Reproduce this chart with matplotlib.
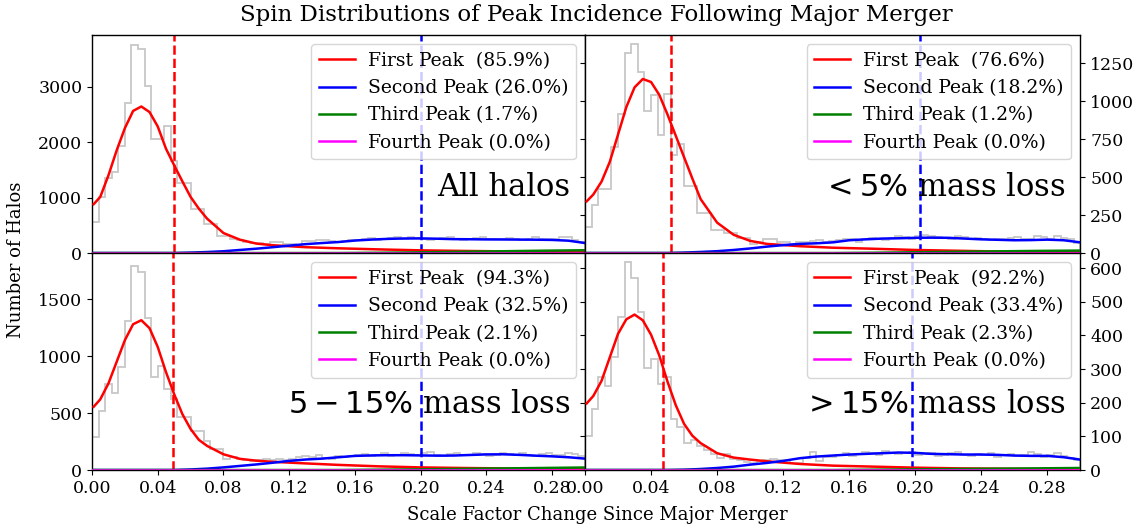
import numpy as np
import matplotlib
matplotlib.use("Agg")
import matplotlib.pyplot as plt

plt.rcParams["font.family"] = "serif"
plt.rcParams["font.serif"] = ["DejaVu Serif"]
plt.rcParams["mathtext.fontset"] = "dejavusans"

# ---- histogram of all peaks (bins of width 0.004 over 0 - 0.3) ----
bin_edges = np.round(np.arange(0, 0.3001, 0.004), 4)

hist_all = [560, 1010, 1360, 1460, 1930, 2710, 3740, 3680, 3010, 2050, 2050, 2290, 1660, 1270, 1270,
            790, 790, 520, 520, 300, 300, 250, 240, 190, 180, 175, 170, 195, 200, 170,
            165, 150, 215, 225, 240, 230, 210, 200, 215, 240, 230, 250, 265, 240, 255,
            270, 280, 260, 285, 270, 255, 240, 245, 270, 290, 250, 240, 255, 275, 280,
            260, 245, 250, 270, 255, 235, 250, 285, 260, 245, 250, 280, 290, 240, 200]
hist_lt5 = [172, 316, 422, 422, 699, 913, 1318, 1373, 1192, 936, 1037, 776, 1048, 644, 714,
            440, 440, 261, 261, 150, 150, 135, 135, 102, 102, 60, 70, 95, 90, 75,
            70, 60, 75, 70, 80, 85, 75, 80, 85, 90, 95, 70, 90, 100, 95,
            85, 100, 110, 105, 90, 115, 120, 110, 105, 100, 95, 110, 105, 95, 100,
            90, 85, 95, 90, 100, 105, 95, 90, 110, 105, 95, 115, 100, 90, 65]
hist_5to15 = [288, 519, 755, 680, 908, 1311, 1793, 1735, 1331, 813, 914, 712, 625, 467, 467,
              346, 346, 259, 187, 187, 101, 110, 95, 90, 80, 85, 95, 90, 100, 85,
              95, 110, 120, 115, 130, 105, 100, 120, 110, 125, 130, 140, 120, 130, 145,
              125, 135, 150, 140, 130, 145, 155, 135, 125, 140, 150, 135, 130, 145, 140,
              125, 135, 150, 140, 130, 145, 135, 125, 140, 150, 135, 130, 145, 140, 120]
hist_gt15 = [101, 181, 277, 251, 336, 456, 619, 572, 471, 303, 330, 256, 276, 151, 129,
             80, 88, 70, 60, 48, 35, 48, 32, 30, 25, 20, 28, 30, 32, 30,
             30, 20, 22, 35, 55, 28, 40, 38, 45, 50, 42, 48, 55, 50, 45,
             58, 52, 48, 50, 55, 45, 48, 52, 42, 45, 50, 55, 45, 42, 48,
             45, 50, 40, 45, 48, 42, 45, 55, 48, 40, 45, 50, 42, 35, 30]

# ---- smoothed distributions of each peak ----
first_x = [0.001, 0.005, 0.01, 0.015, 0.02, 0.025, 0.03, 0.035, 0.04, 0.045, 0.05, 0.055, 0.06,
           0.065, 0.07, 0.08, 0.09, 0.10, 0.11, 0.13, 0.15, 0.175, 0.20, 0.225, 0.25, 0.275, 0.30]
first_all = [880, 1010, 1400, 1850, 2250, 2560, 2640, 2540, 2280, 1880, 1580, 1290, 1010,
             800, 620, 360, 240, 170, 140, 105, 85, 65, 48, 38, 30, 22, 15]
first_lt5 = [340, 385, 470, 600, 780, 960, 1090, 1145, 1125, 1040, 910, 770, 630,
             490, 355, 200, 120, 80, 60, 45, 35, 28, 20, 15, 10, 8, 5]
first_5to15 = [555, 620, 760, 950, 1140, 1280, 1315, 1245, 1080, 860, 665, 490, 360,
               265, 212, 138, 98, 82, 72, 58, 45, 32, 23, 18, 14, 12, 10]
first_gt15 = [198, 220, 265, 335, 405, 448, 462, 445, 402, 340, 262, 192, 137,
              102, 80, 50, 37, 31, 26, 18, 13, 10, 7, 5, 4, 3, 3]

second_x = [0.0, 0.05, 0.06, 0.07, 0.08, 0.09, 0.10, 0.11, 0.12, 0.13, 0.14, 0.15, 0.16, 0.17,
            0.18, 0.19, 0.20, 0.21, 0.22, 0.23, 0.24, 0.25, 0.26, 0.27, 0.28, 0.29, 0.30]
second_all = [0, 0, 8, 18, 32, 55, 78, 105, 133, 160, 180, 198, 225, 242,
              255, 262, 263, 258, 250, 248, 245, 244, 242, 240, 236, 222, 180]
second_lt5 = [0, 0, 3, 7, 12, 20, 30, 42, 52, 60, 64, 70, 84, 90,
              95, 97, 100, 101, 100, 95, 90, 87, 84, 85, 88, 84, 70]
second_5to15 = [0, 0, 5, 12, 23, 36, 49, 64, 80, 92, 100, 112, 124, 128,
                130, 130, 128, 126, 127, 132, 137, 138, 133, 126, 120, 112, 100]
second_gt15 = [0, 0, 1, 3, 6, 10, 16, 21, 27, 35, 40, 43, 46, 48,
               50, 52, 51, 48, 47, 46, 46, 45, 43, 42, 42, 38, 31]

third_x = [0.0, 0.15, 0.175, 0.2, 0.225, 0.25, 0.275, 0.3]
third_all = [0, 0, 5, 12, 22, 32, 42, 50]
third_lt5 = [0, 0, 2, 5, 8, 11, 14, 16]
third_5to15 = [0, 0, 3, 6, 10, 14, 18, 22]
third_gt15 = [0, 0, 1, 2, 3, 4, 5, 6]

fourth_x = [0.0, 0.3]
fourth_vals = [0, 0]

# median of first and second peak
first_median = [0.050, 0.052, 0.049, 0.047]
second_median = [0.200, 0.203, 0.200, 0.198]

first_pct = ["85.9", "76.6", "94.3", "92.2"]
second_pct = ["26.0", "18.2", "32.5", "33.4"]
third_pct = ["1.7", "1.2", "2.1", "2.3"]
fourth_pct = ["0.0", "0.0", "0.0", "0.0"]

panel_names = ["All halos", r"$<5\%$ mass loss", r"$5-15\%$ mass loss", r"$>15\%$ mass loss"]
y_maxes = [3930, 1435, 1905, 645]
y_ticks = [[0, 1000, 2000, 3000], [0, 250, 500, 750, 1000, 1250],
           [0, 500, 1000, 1500], [0, 100, 200, 300, 400, 500, 600]]
x_ticks = [0.00, 0.04, 0.08, 0.12, 0.16, 0.20, 0.24, 0.28]

hists = [hist_all, hist_lt5, hist_5to15, hist_gt15]
firsts = [first_all, first_lt5, first_5to15, first_gt15]
seconds = [second_all, second_lt5, second_5to15, second_gt15]
thirds = [third_all, third_lt5, third_5to15, third_gt15]

fig = plt.figure(figsize=(11.36, 5.29), dpi=100)
L, M, R = 0.081, 0.515, 0.951
B, C, T = 0.1115, 0.5217, 0.934
rects = [(L, C, M - L, T - C), (M, C, R - M, T - C),
         (L, B, M - L, C - B), (M, B, R - M, C - B)]

lw = 1.8
for i, rect in enumerate(rects):
    ax = fig.add_axes(rect)
    ax.stairs(hists[i], bin_edges, color="0.78", lw=1.3, zorder=1)
    ax.plot(first_x, firsts[i], color="red", lw=lw, zorder=3,
            label=f"First Peak  ({first_pct[i]}%)")
    ax.plot(second_x, seconds[i], color="blue", lw=lw, zorder=3,
            label=f"Second Peak ({second_pct[i]}%)")
    ax.plot(third_x, thirds[i], color="green", lw=lw, zorder=3,
            label=f"Third Peak ({third_pct[i]}%)")
    ax.plot(fourth_x, fourth_vals, color="magenta", lw=lw, zorder=4,
            label=f"Fourth Peak ({fourth_pct[i]}%)")
    ax.axvline(first_median[i], color="red", ls="--", lw=lw, zorder=2)
    ax.axvline(second_median[i], color="blue", ls="--", lw=lw, zorder=2)

    ax.set_xlim(0, 0.3)
    ax.set_ylim(0, y_maxes[i])
    ax.set_yticks(y_ticks[i])
    ax.set_xticks(x_ticks)
    ax.tick_params(labelsize=12.5)
    for sp in ax.spines.values():
        sp.set_linewidth(1.0)
    if i < 2:
        ax.tick_params(axis="x", bottom=False, labelbottom=False)
    else:
        ax.set_xticklabels([f"{t:.2f}" for t in x_ticks])
    if i % 2 == 1:
        ax.tick_params(axis="y", left=True, right=True, labelleft=False, labelright=True)

    ax.legend(loc="upper right", fontsize=13.5, labelspacing=0.5, borderpad=0.4,
              handlelength=1.9, handletextpad=0.7)
    ax.text(0.97, 0.30, panel_names[i], transform=ax.transAxes, ha="right", va="center",
            fontsize=22)

fig.text(0.525, 0.972, "Spin Distributions of Peak Incidence Following Major Merger",
         ha="center", va="center", fontsize=16.5)
fig.text(0.5255, 0.027, "Scale Factor Change Since Major Merger", ha="center", va="center",
         fontsize=13)
fig.text(0.0137, 0.508, "Number of Halos", ha="center", va="center", rotation=90, fontsize=13)

fig.savefig("out.png", dpi=100)
